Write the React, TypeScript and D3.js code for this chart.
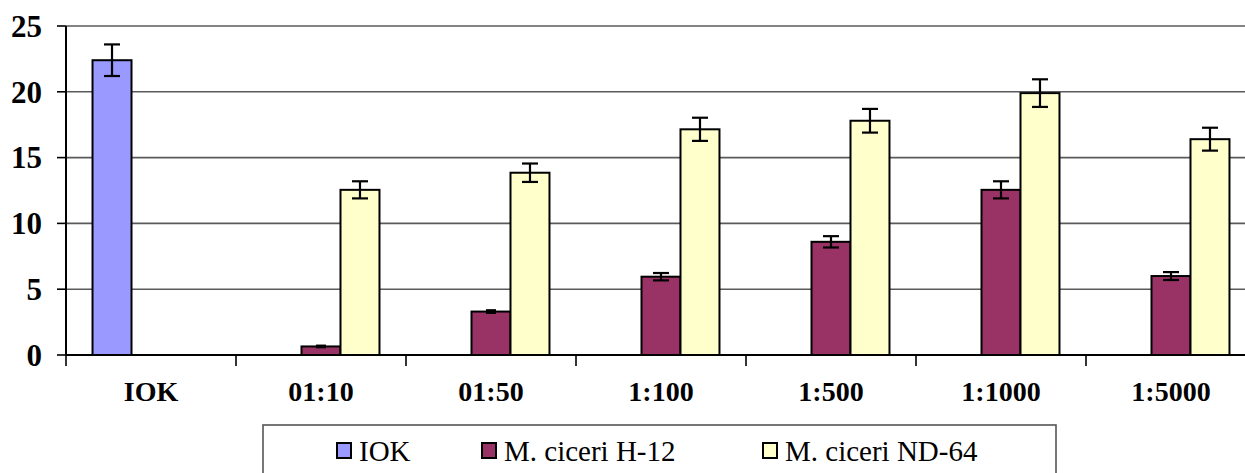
import React from 'react';
import * as d3 from 'd3';

// Categories along the x axis
const categories = ['IOK', '01:10', '01:50', '1:100', '1:500', '1:1000', '1:5000'];
const seriesNames = ['IOK', 'M. ciceri H-12', 'M. ciceri ND-64'];
const seriesColors = ['#9999FF', '#993366', '#FFFFCC'];

// Series values (null = no bar)
const iokValues = [22.4, null, null, null, null, null, null];
const h12Values = [null, 0.65, 3.3, 5.95, 8.6, 12.55, 6.0];
const nd64Values = [null, 12.55, 13.85, 17.15, 17.8, 19.9, 16.4];

// Error bar half-widths
const iokErrors = [1.2, 0, 0, 0, 0, 0, 0];
const h12Errors = [0, 0.06, 0.1, 0.28, 0.43, 0.65, 0.3];
const nd64Errors = [0, 0.65, 0.7, 0.88, 0.9, 1.05, 0.87];

const yTicks = [0, 5, 10, 15, 20, 25];

const App = () => {
    const width = 1245;
    const height = 473;
    const plot = { left: 66, right: 1256, top: 26, bottom: 355 };

    const series = [iokValues, h12Values, nd64Values];
    const errors = [iokErrors, h12Errors, nd64Errors];

    // Outer band for category groups
    const x0 = d3.scaleBand<string>()
        .domain(categories)
        .range([plot.left, plot.right])
        .paddingInner(0.312)
        .paddingOuter(0.156);

    // Inner band for series inside a group
    const x1 = d3.scaleBand<number>()
        .domain([0, 1, 2])
        .range([0, x0.bandwidth()]);

    const y = d3.scaleLinear().domain([0, 25]).range([plot.bottom, plot.top]);

    const step = x0.step();
    const boundaries = d3.range(categories.length + 1).map(i => plot.left + i * step);

    const serif = { fontFamily: 'Liberation Serif' };

    // Legend layout (x positions of each swatch)
    const legendX = [337, 482, 763];

    return (
        <div style={{ position: 'absolute', left: 0, top: 0 }}>
            <svg width={width} height={height} style={{ display: 'block', background: '#fff' }}>
                {/* Grid lines */}
                {yTicks.filter(t => t > 0).map(t => (
                    <line key={'g' + t} x1={plot.left} x2={width} y1={y(t)} y2={y(t)}
                        stroke="#5a5a5a" strokeWidth={1.6} />
                ))}

                {/* Bars */}
                {series.map((vals, si) => vals.map((v, ci) => v == null ? null : (
                    <rect key={`b${si}-${ci}`}
                        x={(x0(categories[ci]) as number) + (x1(si) as number)}
                        y={y(v)}
                        width={x1.bandwidth()}
                        height={y(0) - y(v)}
                        fill={seriesColors[si]}
                        stroke="#000" strokeWidth={2} />
                )))}

                {/* Error bars */}
                {series.map((vals, si) => vals.map((v, ci) => {
                    if (v == null) return null;
                    const e = errors[si][ci];
                    const cx = (x0(categories[ci]) as number) + (x1(si) as number) + x1.bandwidth() / 2;
                    const capW = e < 0.15 ? 5 : 8;
                    return (
                        <g key={`e${si}-${ci}`} stroke="#000" strokeWidth={2.2}>
                            <line x1={cx} x2={cx} y1={y(v + e)} y2={y(v - e)} />
                            <line x1={cx - capW} x2={cx + capW} y1={y(v + e)} y2={y(v + e)} />
                            <line x1={cx - capW} x2={cx + capW} y1={y(v - e)} y2={y(v - e)} />
                        </g>
                    );
                }))}

                {/* Y axis */}
                <line x1={plot.left} x2={plot.left} y1={plot.top} y2={plot.bottom} stroke="#000" strokeWidth={2} />
                {yTicks.map(t => (
                    <g key={'yt' + t}>
                        <line x1={plot.left - 9} x2={plot.left} y1={y(t)} y2={y(t)} stroke="#000" strokeWidth={1.6} />
                        <text x={42} y={y(t)} dy="0.35em" textAnchor="end"
                            style={serif} fontWeight="bold" fontSize={31} fill="#000">{t}</text>
                    </g>
                ))}

                {/* X axis */}
                <line x1={plot.left} x2={width} y1={plot.bottom} y2={plot.bottom} stroke="#000" strokeWidth={2} />
                {boundaries.map((bx, i) => (
                    <line key={'xt' + i} x1={bx} x2={bx} y1={plot.bottom} y2={plot.bottom + 11}
                        stroke="#000" strokeWidth={1.6} />
                ))}
                {categories.map(c => (
                    <text key={'xl' + c} x={(x0(c) as number) + x0.bandwidth() / 2} y={401}
                        textAnchor="middle" style={serif} fontWeight="bold" fontSize={28} fill="#000">{c}</text>
                ))}

                {/* Legend */}
                <rect x={263} y={425} width={793} height={70} fill="#fff" stroke="#555" strokeWidth={1.6} />
                {seriesNames.map((name, i) => (
                    <g key={'lg' + i}>
                        <rect x={legendX[i]} y={443} width={14} height={15}
                            fill={seriesColors[i]} stroke="#000" strokeWidth={2} />
                        <text x={legendX[i] + 22} y={461} style={serif} fontSize={29} fill="#000">{name}</text>
                    </g>
                ))}
            </svg>
        </div>
    );
};

export default App;
